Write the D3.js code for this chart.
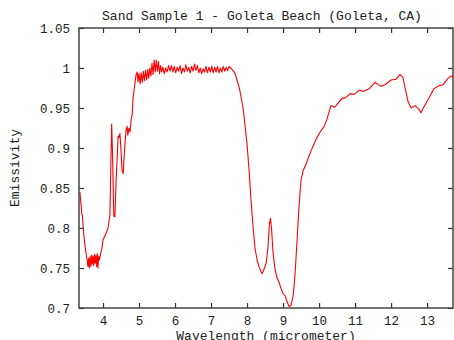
<!DOCTYPE html>
<meta charset="utf-8">
<style>
  body { margin: 0; background: #fff; }
  text { font-family: "Liberation Mono", "DejaVu Sans Mono", monospace; fill: #222; }
</style>
<svg width="454" height="340"></svg>
<script src="https://d3js.org/d3.v7.min.js"></script>
<script>

var title = 'Sand Sample 1 - Goleta Beach (Goleta, CA)';
var xLabel = 'Wavelength (micrometer)';
var yLabel = 'Emissivity';

var xTicks = [4, 5, 6, 7, 8, 9, 10, 11, 12, 13];
var yTicks = [0.7, 0.75, 0.8, 0.85, 0.9, 0.95, 1, 1.05];
var yTickLabels = ['0.7', '0.75', '0.8', '0.85', '0.9', '0.95', '1', '1.05'];

// wavelength (micrometer)
var wavelength = [
  3.36, 3.37, 3.39, 3.41, 3.43, 3.45, 3.47, 3.50, 3.53, 3.56, 3.58,
  3.60, 3.62, 3.64, 3.66, 3.68, 3.70, 3.72, 3.74, 3.76, 3.78, 3.80, 3.82, 3.84, 3.86, 3.88, 3.90,
  3.92, 3.97, 4.00, 4.05, 4.10, 4.14, 4.17, 4.19,
  4.21, 4.24, 4.26, 4.28, 4.30, 4.33, 4.36, 4.39, 4.42, 4.44, 4.47, 4.50, 4.53, 4.56, 4.58,
  4.61, 4.64, 4.67, 4.69, 4.72, 4.75, 4.78, 4.81, 4.83, 4.86, 4.89, 4.92,
  4.95, 4.97, 5.00, 5.03, 5.06, 5.09, 5.12, 5.15, 5.18, 5.21, 5.24, 5.27, 5.30, 5.33, 5.36, 5.39,
  5.42, 5.45, 5.48, 5.51, 5.54, 5.57, 5.60, 5.63, 5.66, 5.70, 5.74, 5.78, 5.82, 5.86, 5.90, 5.94,
  5.98, 6.02, 6.06, 6.10, 6.14, 6.18, 6.22, 6.26, 6.30, 6.34, 6.38, 6.42, 6.46, 6.50, 6.54, 6.58,
  6.62, 6.66, 6.70, 6.74, 6.78, 6.82, 6.86, 6.90, 6.94, 6.98, 7.02, 7.06, 7.10, 7.14, 7.18, 7.22,
  7.26, 7.30, 7.34, 7.38, 7.42, 7.46, 7.50, 7.55, 7.62,
  7.67, 7.72, 7.78, 7.83, 7.89, 7.94, 8.00, 8.06, 8.11, 8.17, 8.22, 8.28, 8.33, 8.39, 8.42, 8.47,
  8.53, 8.58, 8.62, 8.65, 8.68, 8.72, 8.78, 8.83, 8.89, 8.94, 9.00, 9.06, 9.11, 9.17, 9.22, 9.28,
  9.33, 9.39, 9.44, 9.50, 9.56, 9.64, 9.72, 9.83, 9.94, 10.03, 10.14, 10.22, 10.33, 10.44, 10.53,
  10.64, 10.75, 10.86, 10.97, 11.11, 11.25, 11.39, 11.56, 11.72, 11.86, 12.00, 12.14, 12.25, 12.33,
  12.39, 12.47, 12.56, 12.67, 12.78, 12.83, 12.92, 13.06, 13.19, 13.33, 13.44, 13.58, 13.67, 13.72
];

var emissivity = [
  0.845, 0.838, 0.830, 0.818, 0.815, 0.800, 0.790, 0.778, 0.768, 0.760, 0.752,
  0.762, 0.750, 0.764, 0.752, 0.766, 0.755, 0.765, 0.753, 0.767, 0.756, 0.766, 0.752, 0.768, 0.750, 0.765, 0.760,
  0.765, 0.775, 0.785, 0.790, 0.795, 0.800, 0.810, 0.815,
  0.860, 0.930, 0.900, 0.858, 0.815, 0.814, 0.855, 0.885, 0.915, 0.913, 0.918, 0.897, 0.872, 0.868, 0.885,
  0.905, 0.922, 0.927, 0.916, 0.925, 0.920, 0.935, 0.942, 0.960, 0.972, 0.982, 0.992,
  0.995, 0.983, 0.993, 0.980, 0.994, 0.982, 0.996, 0.984, 0.997, 0.985, 0.998, 0.987, 1.000, 0.990, 1.006, 0.992,
  1.010, 0.995, 1.010, 0.996, 1.008, 0.993, 1.003, 0.995, 1.001, 0.993, 1.000, 0.995, 1.003, 0.996, 1.003, 0.995,
  1.002, 0.994, 1.001, 0.996, 1.003, 0.993, 1.000, 0.995, 1.004, 0.996, 1.001, 0.994, 1.002, 0.996, 1.005, 0.997,
  1.003, 0.994, 1.000, 0.993, 0.999, 0.995, 1.002, 0.994, 1.001, 0.995, 1.002, 0.994, 1.001, 0.995, 1.002, 0.994,
  1.000, 0.995, 1.002, 0.996, 1.001, 0.997, 1.002, 1.000, 0.996,
  0.993, 0.985, 0.976, 0.965, 0.950, 0.930, 0.905, 0.870, 0.835, 0.800, 0.775, 0.760, 0.752, 0.745, 0.743, 0.748,
  0.756, 0.775, 0.805, 0.812, 0.800, 0.770, 0.748, 0.738, 0.732, 0.725, 0.718, 0.715, 0.708, 0.702, 0.703, 0.715,
  0.740, 0.785, 0.825, 0.860, 0.872, 0.880, 0.890, 0.902, 0.913, 0.920, 0.927, 0.936, 0.953, 0.951, 0.956,
  0.962, 0.963, 0.968, 0.967, 0.972, 0.971, 0.974, 0.982, 0.977, 0.980, 0.985, 0.986, 0.992, 0.988,
  0.975, 0.958, 0.950, 0.953, 0.948, 0.944, 0.952, 0.963, 0.974, 0.978, 0.979, 0.987, 0.990, 0.989
];

var svg = d3.select('svg'),
    margin = {top: 28, right: 1, bottom: 32, left: 79},
    width = +svg.attr('width') - margin.left - margin.right,
    height = +svg.attr('height') - margin.top - margin.bottom;

var x = d3.scaleLinear().domain([3.333, 13.72]).range([0, width]);
var y = d3.scaleLinear().domain([0.7, 1.05]).range([height, 0]);

var g = svg.append('g').attr('transform', 'translate(' + margin.left + ',' + margin.top + ')');

var data = wavelength.map(function(w, i) { return [w, emissivity[i]]; });

// curve
g.append('path')
  .datum(data)
  .attr('fill', 'none')
  .attr('stroke', '#ff0000')
  .attr('stroke-width', 1.1)
  .attr('stroke-linejoin', 'round')
  .attr('d', d3.line().x(function(d) { return x(d[0]); }).y(function(d) { return y(d[1]); }));

var fmtY = function(d) { return yTickLabels[yTicks.indexOf(d)]; };

// axes, ticks pointing inwards like gnuplot
g.append('g')
  .attr('transform', 'translate(0,' + height + ')')
  .call(d3.axisBottom(x).tickValues(xTicks).tickSize(-5).tickPadding(8).tickFormat(d3.format('d')));
g.append('g')
  .call(d3.axisTop(x).tickValues(xTicks).tickSize(-5).tickFormat(''));
g.append('g')
  .call(d3.axisLeft(y).tickValues(yTicks).tickSize(-5).tickPadding(9).tickFormat(fmtY));
g.append('g')
  .attr('transform', 'translate(' + width + ',0)')
  .call(d3.axisRight(y).tickValues(yTicks).tickSize(-5).tickFormat(''));

g.selectAll('.domain').remove();
g.selectAll('.tick line').attr('stroke', '#333').attr('stroke-width', 1.2);
g.selectAll('.tick text').attr('font-size', 12.5).attr('fill', '#222')
  .style('font-family', '"Liberation Mono", monospace');

// frame
g.append('rect')
  .attr('width', width).attr('height', height)
  .attr('fill', 'none').attr('stroke', '#444').attr('stroke-width', 1.5);

svg.append('text')
  .attr('x', 262).attr('y', 20)
  .attr('text-anchor', 'middle')
  .attr('font-size', 13)
  .text(title);

svg.append('text')
  .attr('x', 266).attr('y', 340)
  .attr('text-anchor', 'middle')
  .attr('font-size', 13)
  .text(xLabel);

svg.append('text')
  .attr('transform', 'translate(19,' + (margin.top + height / 2) + ') rotate(-90)')
  .attr('text-anchor', 'middle')
  .attr('font-size', 13)
  .text(yLabel);

</script>
